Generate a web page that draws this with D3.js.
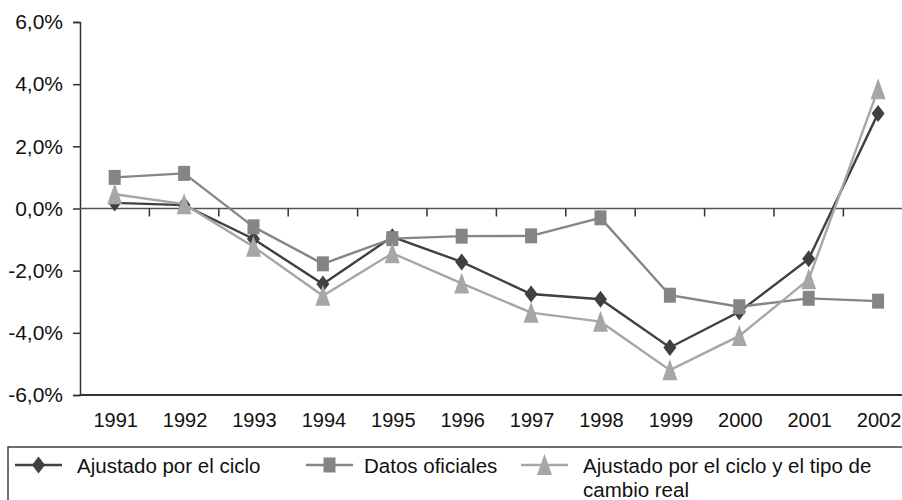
<!DOCTYPE html>
<html>
<head>
<meta charset="utf-8">
<script src="https://cdn.jsdelivr.net/npm/d3@7"></script>
<style>
	body { margin: 0; background: #fff; }
	svg { display: block; font-family: "Liberation Sans", Arial, Helvetica, sans-serif; }
	text { fill: #111; }
</style>
</head>
<body>
<div class="chart"></div>
<script>
(function() {

	const years = ["1991", "1992", "1993", "1994", "1995", "1996", "1997", "1998", "1999", "2000", "2001", "2002"];
	const ciclo = [0.18, 0.11, -0.98, -2.43, -0.91, -1.72, -2.75, -2.92, -4.47, -3.32, -1.62, 3.06];
	const oficiales = [1.0, 1.13, -0.59, -1.78, -0.97, -0.89, -0.88, -0.30, -2.79, -3.16, -2.89, -2.98];
	const cicloCambio = [0.46, 0.14, -1.23, -2.81, -1.44, -2.41, -3.35, -3.64, -5.2, -4.1, -2.28, 3.84];
	const yTicks = [-6, -4, -2, 0, 2, 4, 6];

	const series = [
		{name: "Ajustado por el ciclo", values: ciclo, color: "#404040", shape: "diamond", lx: 15, tx: 77},
		{name: "Datos oficiales", values: oficiales, color: "#858585", shape: "square", lx: 306, tx: 364},
		{name: "Ajustado por el ciclo y el tipo de|cambio real", values: cicloCambio, color: "#a6a6a6", shape: "triangle", lx: 521, tx: 583}
	];

	const W = 902, H = 500;
	const left = 80, top = 22, bottom = 395, band = 69.4;

	const locale = d3.formatLocale({decimal: ",", thousands: ".", grouping: [3], currency: ["", ""], minus: "-"});
	const fmt = locale.format(".1f");

	const svg = d3.select(".chart").append("svg")
		.attr("width", W)
		.attr("height", H);

	const x = d3.scaleBand()
		.domain(years)
		.range([left, left + band * years.length])
		.paddingInner(0)
		.paddingOuter(0);

	const y = d3.scaleLinear()
		.domain([-6, 6])
		.range([bottom, top]);

	function shapePath(shape) {
		if (shape === "diamond") return "M0,-8.5L6.5,0L0,8.5L-6.5,0Z";
		if (shape === "square") return "M-6,-7.5H6V7.5H-6Z";
		return "M0,-11L7.5,10L-7.5,10Z";
	}

	// y axis
	const yAxis = d3.axisLeft(y)
		.tickValues(yTicks)
		.tickSize(7)
		.tickPadding(10)
		.tickFormat(d => fmt(d) + "%");

	const gy = svg.append("g")
		.attr("class", "y axis")
		.attr("transform", "translate(" + left + ",0)")
		.call(yAxis);
	gy.select(".domain").attr("stroke", "#333").attr("stroke-width", 1.5);
	gy.selectAll(".tick line").attr("stroke", "#333").attr("stroke-width", 1.5);
	gy.selectAll("text")
		.style("font-size", "21px")
		.attr("fill", "#111");

	// bottom frame line
	svg.append("line")
		.attr("x1", left).attr("x2", W)
		.attr("y1", bottom).attr("y2", bottom)
		.attr("stroke", "#333")
		.attr("stroke-width", 1.8);

	// category axis at zero
	const y0 = y(0);
	svg.append("line")
		.attr("x1", left).attr("x2", W)
		.attr("y1", y0).attr("y2", y0)
		.attr("stroke", "#555")
		.attr("stroke-width", 1.5);

	svg.append("g")
		.selectAll("line")
		.data(years)
		.enter().append("line")
		.attr("x1", d => x(d) + band)
		.attr("x2", d => x(d) + band)
		.attr("y1", y0)
		.attr("y2", y0 + 8)
		.attr("stroke", "#333")
		.attr("stroke-width", 1.5);

	// year labels
	svg.append("g")
		.selectAll("text")
		.data(years)
		.enter().append("text")
		.attr("x", d => x(d) + band / 2 + 1)
		.attr("y", 427)
		.style("text-anchor", "middle")
		.style("font-size", "20px")
		.text(d => d);

	// series
	const line = d3.line()
		.x((d, i) => x(years[i]) + band / 2)
		.y(d => y(d));

	series.forEach(s => {
		const g = svg.append("g").attr("class", "series");
		g.append("path")
			.attr("d", line(s.values))
			.attr("fill", "none")
			.attr("stroke", s.color)
			.attr("stroke-width", 2.4);
		g.selectAll(".mark")
			.data(s.values)
			.enter().append("path")
			.attr("class", "mark")
			.attr("d", shapePath(s.shape))
			.attr("transform", (d, i) => "translate(" + (x(years[i]) + band / 2) + "," + y(d) + ")")
			.attr("fill", s.color);
	});

	// legend
	svg.append("rect")
		.attr("x", 8)
		.attr("y", 447)
		.attr("width", 1000)
		.attr("height", 100)
		.attr("fill", "none")
		.attr("stroke", "#333")
		.attr("stroke-width", 1.4);

	const leg = svg.selectAll(".legendItem")
		.data(series)
		.enter().append("g")
		.attr("class", "legendItem");

	leg.append("line")
		.attr("x1", d => d.lx)
		.attr("x2", d => d.lx + 47)
		.attr("y1", 465)
		.attr("y2", 465)
		.attr("stroke", d => d.color)
		.attr("stroke-width", 2.4);

	leg.append("path")
		.attr("d", d => shapePath(d.shape))
		.attr("transform", d => "translate(" + (d.lx + 23.5) + ",465)")
		.attr("fill", d => d.color);

	leg.append("text")
		.attr("y", 473)
		.style("font-size", "20.5px")
		.selectAll("tspan")
		.data(d => d.name.split("|").map(t => ({t: t, x: d.tx})))
		.enter().append("tspan")
		.attr("x", d => d.x)
		.attr("dy", (d, i) => i ? 23.5 : 0)
		.text(d => d.t);

})();
</script>
</body>
</html>
